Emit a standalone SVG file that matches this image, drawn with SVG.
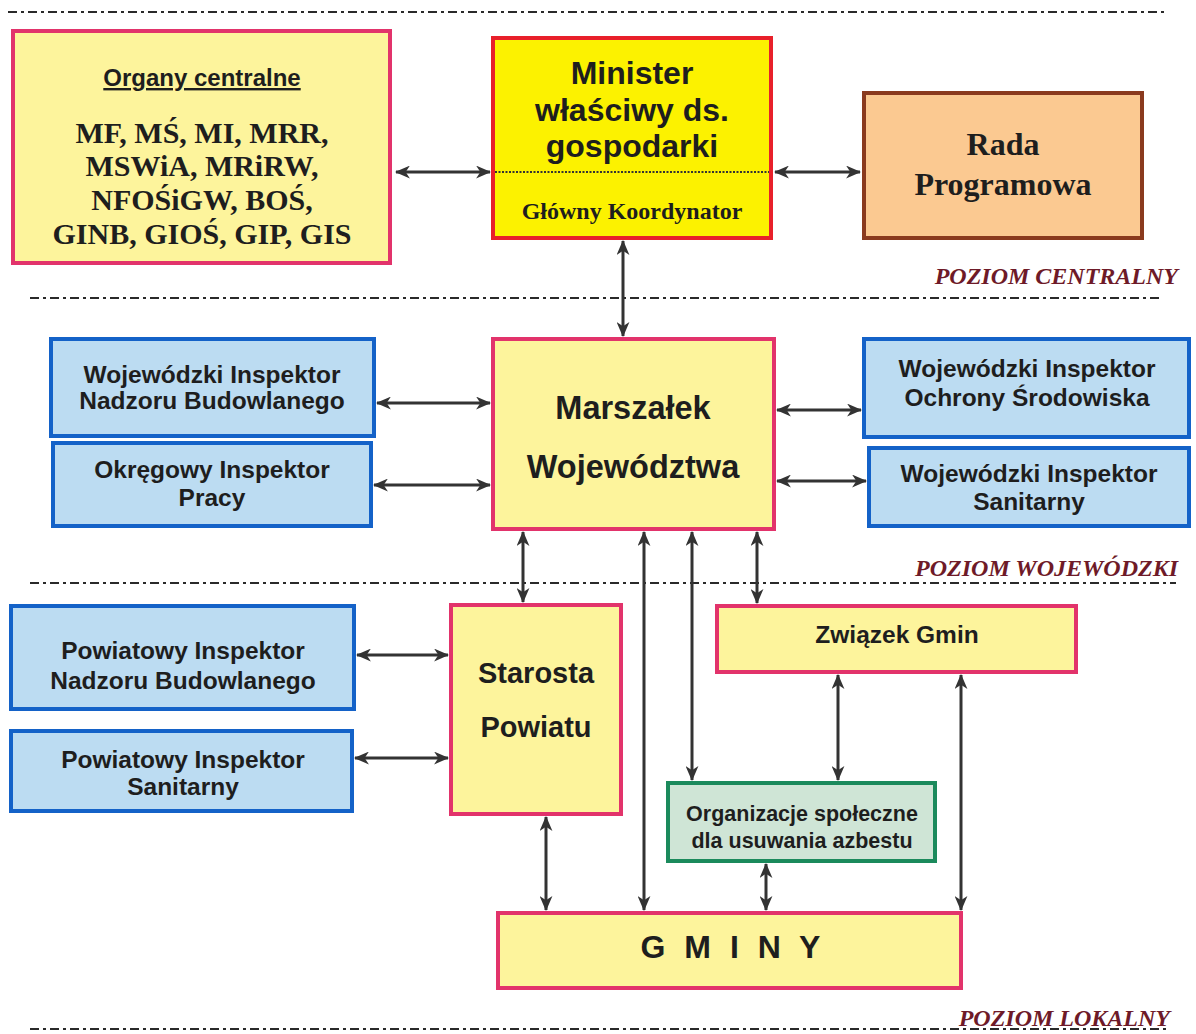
<svg xmlns="http://www.w3.org/2000/svg" width="1196" height="1034" viewBox="0 0 1196 1034">
<defs>
<marker id="ah" viewBox="0 0 14 12" refX="13" refY="6" markerWidth="15" markerHeight="13" markerUnits="userSpaceOnUse" orient="auto-start-reverse">
<path d="M0,0 L14,6 L0,12 L4,6 Z" fill="#333"/>
</marker>
</defs>
<style>
.bg{fill:#fff}
.lvl{stroke:#2a2a2a;stroke-width:2.2;stroke-dasharray:9 4 3 4;fill:none}
.lbl{font-family:"Liberation Serif",serif;font-style:italic;font-weight:bold;font-size:24px;fill:#6e1a28;text-anchor:end}
.yl{fill:#fdf49c;stroke:#e2336b;stroke-width:4}
.bl{fill:#bcdcf2;stroke:#1462c8;stroke-width:4}
.sa{font-family:"Liberation Sans",Arial,sans-serif;font-weight:bold;fill:#1e1e1e;text-anchor:middle}
.se{font-family:"Liberation Serif","Times New Roman",serif;font-weight:bold;fill:#1e1e1e;text-anchor:middle}
.c line{stroke:#333;stroke-width:3;marker-start:url(#ah);marker-end:url(#ah)}
</style>
<rect class="bg" x="0" y="0" width="1196" height="1034"/>

<g id="levels">
<line class="lvl" x1="8" y1="12" x2="1165" y2="12"/>
<line class="lvl" x1="30" y1="298" x2="1162" y2="298"/>
<line class="lvl" x1="30" y1="583" x2="1176" y2="583"/>
<line class="lvl" x1="30" y1="1029" x2="1168" y2="1029"/>
<text class="lbl" x="1178" y="284">POZIOM  CENTRALNY</text>
<text class="lbl" x="1178" y="576">POZIOM  WOJEWÓDZKI</text>
<text class="lbl" x="1170" y="1026">POZIOM  LOKALNY</text>
</g>

<g id="organy">
<rect class="yl" x="13" y="31" width="377" height="232"/>
<text class="sa" x="202" y="86" font-size="24" text-decoration="underline">Organy centralne</text>
<text class="se" x="202" y="143" font-size="30">MF, MŚ, MI, MRR,</text>
<text class="se" x="202" y="176" font-size="30">MSWiA, MRiRW,</text>
<text class="se" x="202" y="210" font-size="30">NFOŚiGW, BOŚ,</text>
<text class="se" x="202" y="244" font-size="30">GINB, GIOŚ, GIP, GIS</text>
</g>

<g id="minister">
<rect x="493" y="38" width="278" height="200" fill="#fcf200" stroke="#e8202a" stroke-width="4"/>
<line x1="495" y1="172" x2="769" y2="172" stroke="#333" stroke-width="2" stroke-dasharray="2 1.5"/>
<text class="sa" x="632" y="84" font-size="32">Minister</text>
<text class="sa" x="632" y="121" font-size="32">właściwy ds.</text>
<text class="sa" x="632" y="157" font-size="32">gospodarki</text>
<text class="se" x="632" y="219" font-size="24">Główny Koordynator</text>
</g>

<g id="rada">
<rect x="864" y="93" width="278" height="145" fill="#fbc991" stroke="#8a3a1e" stroke-width="4"/>
<text class="se" x="1003" y="155" font-size="32">Rada</text>
<text class="se" x="1003" y="195" font-size="32">Programowa</text>
</g>

<g id="winb">
<rect class="bl" x="51" y="339" width="323" height="97"/>
<text class="sa" x="212" y="383" font-size="24.5">Wojewódzki Inspektor</text>
<text class="sa" x="212" y="409" font-size="24.5">Nadzoru Budowlanego</text>
</g>

<g id="oip">
<rect class="bl" x="53" y="443" width="318" height="83"/>
<text class="sa" x="212" y="478" font-size="24.5">Okręgowy Inspektor</text>
<text class="sa" x="212" y="506" font-size="24.5">Pracy</text>
</g>

<g id="marszalek">
<rect class="yl" x="493" y="339" width="281" height="190"/>
<text class="sa" x="633" y="419" font-size="32.5">Marszałek</text>
<text class="sa" x="633" y="478" font-size="32.5">Województwa</text>
</g>

<g id="wios">
<rect class="bl" x="864" y="339" width="325" height="98"/>
<text class="sa" x="1027" y="377" font-size="24.5">Wojewódzki Inspektor</text>
<text class="sa" x="1027" y="406" font-size="24.5">Ochrony Środowiska</text>
</g>

<g id="wis">
<rect class="bl" x="869" y="448" width="320" height="78"/>
<text class="sa" x="1029" y="482" font-size="24.5">Wojewódzki Inspektor</text>
<text class="sa" x="1029" y="510" font-size="24.5">Sanitarny</text>
</g>

<g id="pinb">
<rect class="bl" x="11" y="606" width="343" height="103"/>
<text class="sa" x="183" y="659" font-size="24.5">Powiatowy Inspektor</text>
<text class="sa" x="183" y="689" font-size="24.5">Nadzoru Budowlanego</text>
</g>

<g id="pis">
<rect class="bl" x="11" y="731" width="341" height="80"/>
<text class="sa" x="183" y="768" font-size="24.5">Powiatowy Inspektor</text>
<text class="sa" x="183" y="795" font-size="24.5">Sanitarny</text>
</g>

<g id="starosta">
<rect class="yl" x="451" y="605" width="170" height="209"/>
<text class="sa" x="536" y="683" font-size="29">Starosta</text>
<text class="sa" x="536" y="737" font-size="29">Powiatu</text>
</g>

<g id="zwiazek">
<rect class="yl" x="717" y="606" width="359" height="66"/>
<text class="sa" x="897" y="643" font-size="24.5">Związek Gmin</text>
</g>

<g id="organizacje">
<rect x="668" y="783" width="267" height="78" fill="#cfe5d6" stroke="#1b8a5c" stroke-width="4"/>
<text class="sa" x="802" y="821" font-size="21.5" font-weight="normal">Organizacje społeczne</text>
<text class="sa" x="802" y="848" font-size="21.5" font-weight="normal">dla usuwania azbestu</text>
</g>

<g id="gminy">
<rect class="yl" x="498" y="913" width="463" height="75"/>
<text class="sa" x="733" y="958" font-size="32" letter-spacing="5">G M I N Y</text>
</g>

<g id="connectors" class="c">
<line x1="396" y1="172" x2="490" y2="172"/>
<line x1="775" y1="172" x2="860" y2="172"/>
<line x1="623" y1="241" x2="623" y2="336"/>
<line x1="377" y1="403" x2="490" y2="403"/>
<line x1="374" y1="485" x2="490" y2="485"/>
<line x1="777" y1="410" x2="861" y2="410"/>
<line x1="777" y1="481" x2="866" y2="481"/>
<line x1="523" y1="532" x2="523" y2="602"/>
<line x1="644" y1="532" x2="644" y2="910"/>
<line x1="692" y1="532" x2="692" y2="780"/>
<line x1="757" y1="532" x2="757" y2="603"/>
<line x1="357" y1="655" x2="448" y2="655"/>
<line x1="355" y1="758" x2="448" y2="758"/>
<line x1="546" y1="817" x2="546" y2="910"/>
<line x1="838" y1="675" x2="838" y2="780"/>
<line x1="961" y1="675" x2="961" y2="910"/>
<line x1="766" y1="864" x2="766" y2="910"/>
</g>
</svg>
